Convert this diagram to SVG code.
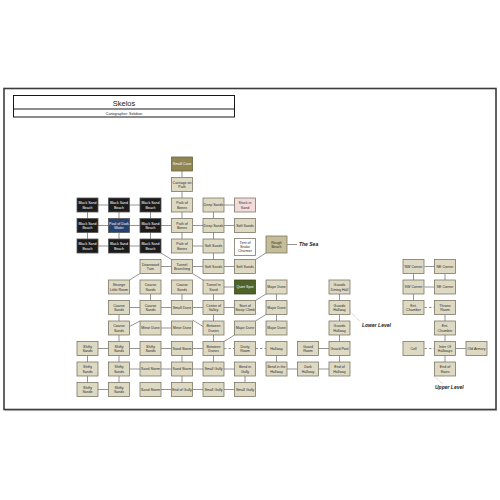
<svg xmlns="http://www.w3.org/2000/svg" width="500" height="500" viewBox="0 0 500 500">
<style>
  .bx{fill:#ddd9c3;stroke:#7d7866;stroke-width:0.8}
  .blk{fill:#1b1b1b;stroke:#555;stroke-width:0.8}
  .blu{fill:#25426f;stroke:#555;stroke-width:0.8}
  .olv{fill:#8f8652;stroke:#6b6440;stroke-width:0.8}
  .grn{fill:#4f6228;stroke:#3a4a1c;stroke-width:0.8}
  .pnk{fill:#f2dcdb;stroke:#7d7866;stroke-width:0.8}
  .wht{fill:#ffffff;stroke:#7d7866;stroke-width:0.8}
  .tan{fill:#c4bd97;stroke:#7d7866;stroke-width:0.8}
  text{font-family:"Liberation Sans",Arial,sans-serif;text-anchor:middle}
  .t{font-size:3.6px;fill:#2b2b2b}
  .tw{font-size:3.6px;fill:#ffffff}
  .lbl{font-size:5px;font-weight:bold;font-style:italic;fill:#222;text-anchor:start}
  #connectors path{fill:none;stroke:#7a7a7a;stroke-width:0.8}
  #connectors .dash{stroke-dasharray:2.5 2}
  #connectors .note{stroke:#9a9a9a;stroke-width:0.6;stroke-dasharray:1 0.8}
</style>

<!-- page frame -->
<rect x="4" y="88.5" width="492" height="321" fill="#ffffff" stroke="#3c3c3c" stroke-width="1.6"/>
<line x1="4.8" y1="410.6" x2="496.8" y2="410.6" stroke="#9a9a9a" stroke-width="0.8"/>

<!-- title block -->
<g id="title">
  <rect x="13.5" y="95.5" width="221" height="21.5" fill="#ffffff" stroke="#000" stroke-width="0.9"/>
  <line x1="13.5" y1="109" x2="234.5" y2="109" stroke="#000" stroke-width="0.9"/>
  <text x="124" y="106" style="font-size:7.5px;fill:#222">Skelos</text>
  <text x="124" y="115" style="font-size:3.6px;fill:#222">Cartographer: Soloban</text>
</g>

<!-- connectors -->
<g id="connectors">
  <!-- vertical links -->
  <path d="M182 171V177.5M182 191.5V198M182 212V218.5M182 232.5V239"/>
  <path d="M87.5 212V218.5M119 212V218.5M150.5 212V218.5M87.5 232.5V239M119 232.5V239M150.5 232.5V239"/>
  <path d="M213.5 212V218.5M213.5 232.5V239M213.5 253V259.5"/>
  <path d="M213.5 294V300.5M213.5 314.5V321M213.5 335V341.5M213.5 355.5V362"/>
  <path d="M276.5 294V300.5M276.5 314.5V321M245 376V382.5M276.5 355.5V362"/>
  <path d="M339.5 294V300.5M339.5 314.5V321M339.5 335V341.5M339.5 355.5V362"/>
  <path d="M150.5 294V300.5M182 294V300.5M119 314.5V321M119 335V341.5"/>
  <path d="M87.5 355.5V362M87.5 376V382.5M119 355.5V362M119 376V382.5M182 355.5V362M182 376V382.5"/>
  <path d="M413.5 273.5V280M445 273.5V280M413.5 294V300.5M445 314.5V321M445 335V341.5M445 355.5V362"/>
  <!-- horizontal links -->
  <path d="M98 205H108.5M129.5 205H140M224 205H234.5"/>
  <path d="M98 225.5H108.5M129.5 225.5H140M161 225.5H171.5M192.5 225.5H203M224 225.5H234.5"/>
  <path d="M98 246H108.5M129.5 246H140M192.5 246H203"/>
  <path d="M161 266.5H171.5M192.5 266.5H203M224 266.5H234.5M224 287H234.5"/>
  <path d="M129.5 307.5H140M161 307.5H171.5M192.5 307.5H203M224 307.5H234.5M161 328H171.5"/>
  <path d="M98 348.5H108.5M129.5 348.5H140M161 348.5H171.5M192.5 348.5H203M318.5 348.5H329"/>
  <path class="dash" d="M224 348.5H234.5M255.5 348.5H266"/>
  <path d="M129.5 369H140M161 369H171.5M192.5 369H203M224 369H234.5M287 369H297.5M318.5 369H329"/>
  <path d="M98 389.5H108.5M161 389.5H171.5M192.5 389.5H203M224 389.5H234.5"/>
  <path d="M424.5 266.5H434.5M424.5 287H434.5M455.5 348.5H466"/>
  <path class="dash" d="M424.5 307.5H434.5M424.5 348.5H434.5"/>
  <!-- diagonal links -->
  <path d="M161 253L171.5 259.5M129.5 280L140 273.5M192.5 273.5L203 280M266 253L255.5 259.5"/>
  <path d="M255.5 300.5L266 294M255.5 321L266 314.5M224 341.5L234.5 335M192.5 320L203 326.5M129.5 326.5L140 321"/>
  <!-- annotation leaders -->
  <path d="M287 244.5H297"/>
  <path class="note" d="M350 311.5L360 321.5M434.5 376.5L443 384"/>
</g>

<!-- annotations -->
<text class="lbl" x="299" y="246">The Sea</text>
<text class="lbl" x="362" y="327">Lower Level</text>
<text class="lbl" x="435" y="389">Upper Level</text>

<!-- nodes: columns 77,108.5,140,171.5,203,234.5,266,297.5,329 ; rows 157 + 20.5n -->
<g id="small-cave" transform="translate(171.5,157)"><rect class="olv" width="21" height="14"/><text class="tw" x="10.5" y="8.3">Small Cave</text></g>
<g id="carriage-on-path" transform="translate(171.5,177.5)"><rect class="bx" width="21" height="14"/><text class="t" x="10.5" y="6">Carriage on</text><text class="t" x="10.5" y="10.5">Path</text></g>

<g id="black-sand-1" transform="translate(77,198)"><rect class="blk" width="21" height="14"/><text class="tw" x="10.5" y="6">Black Sand</text><text class="tw" x="10.5" y="10.5">Beach</text></g>
<g id="black-sand-2" transform="translate(108.5,198)"><rect class="blk" width="21" height="14"/><text class="tw" x="10.5" y="6">Black Sand</text><text class="tw" x="10.5" y="10.5">Beach</text></g>
<g id="black-sand-3" transform="translate(140,198)"><rect class="blk" width="21" height="14"/><text class="tw" x="10.5" y="6">Black Sand</text><text class="tw" x="10.5" y="10.5">Beach</text></g>
<g id="path-of-bones-1" transform="translate(171.5,198)"><rect class="bx" width="21" height="14"/><text class="t" x="10.5" y="6">Path of</text><text class="t" x="10.5" y="10.5">Bones</text></g>
<g id="deep-sands-1" transform="translate(203,198)"><rect class="bx" width="21" height="14"/><text class="t" x="10.5" y="8.3">Deep Sands</text></g>
<g id="stuck-in-sand" transform="translate(234.5,198)"><rect class="pnk" width="21" height="14"/><text class="t" x="10.5" y="6">Stuck in</text><text class="t" x="10.5" y="10.5">Sand</text></g>

<g id="black-sand-4" transform="translate(77,218.5)"><rect class="blk" width="21" height="14"/><text class="tw" x="10.5" y="6">Black Sand</text><text class="tw" x="10.5" y="10.5">Beach</text></g>
<g id="pool-of-dark-water" transform="translate(108.5,218.5)"><rect class="blu" width="21" height="14"/><text class="tw" x="10.5" y="6">Pool of Dark</text><text class="tw" x="10.5" y="10.5">Water</text></g>
<g id="black-sand-5" transform="translate(140,218.5)"><rect class="blk" width="21" height="14"/><text class="tw" x="10.5" y="6">Black Sand</text><text class="tw" x="10.5" y="10.5">Beach</text></g>
<g id="path-of-bones-2" transform="translate(171.5,218.5)"><rect class="bx" width="21" height="14"/><text class="t" x="10.5" y="6">Path of</text><text class="t" x="10.5" y="10.5">Bones</text></g>
<g id="deep-sands-2" transform="translate(203,218.5)"><rect class="bx" width="21" height="14"/><text class="t" x="10.5" y="8.3">Deep Sands</text></g>
<g id="soft-sands-1" transform="translate(234.5,218.5)"><rect class="bx" width="21" height="14"/><text class="t" x="10.5" y="8.3">Soft Sands</text></g>

<g id="black-sand-6" transform="translate(77,239)"><rect class="blk" width="21" height="14"/><text class="tw" x="10.5" y="6">Black Sand</text><text class="tw" x="10.5" y="10.5">Beach</text></g>
<g id="black-sand-7" transform="translate(108.5,239)"><rect class="blk" width="21" height="14"/><text class="tw" x="10.5" y="6">Black Sand</text><text class="tw" x="10.5" y="10.5">Beach</text></g>
<g id="black-sand-8" transform="translate(140,239)"><rect class="blk" width="21" height="14"/><text class="tw" x="10.5" y="6">Black Sand</text><text class="tw" x="10.5" y="10.5">Beach</text></g>
<g id="path-of-bones-3" transform="translate(171.5,239)"><rect class="bx" width="21" height="14"/><text class="t" x="10.5" y="6">Path of</text><text class="t" x="10.5" y="10.5">Bones</text></g>
<g id="soft-sands-2" transform="translate(203,239)"><rect class="bx" width="21" height="14"/><text class="t" x="10.5" y="8.3">Soft Sands</text></g>
<g id="tent-of-snake-charmer" transform="translate(234.5,238.5)"><rect class="wht" width="21" height="17"/><text class="t" x="10.5" y="5">Tent of</text><text class="t" x="10.5" y="9.3">Snake</text><text class="t" x="10.5" y="13.6">Charmer</text></g>
<g id="rough-beach" transform="translate(266,236)"><rect class="tan" width="21" height="17"/><text class="t" x="10.5" y="7.6">Rough</text><text class="t" x="10.5" y="12">Beach</text></g>

<g id="downward-turn" transform="translate(140,259.5)"><rect class="bx" width="21" height="14"/><text class="t" x="10.5" y="6">Downward</text><text class="t" x="10.5" y="10.5">Turn</text></g>
<g id="tunnel-branching" transform="translate(171.5,259.5)"><rect class="bx" width="21" height="14"/><text class="t" x="10.5" y="6">Tunnel</text><text class="t" x="10.5" y="10.5">Branching</text></g>
<g id="soft-sands-3" transform="translate(203,259.5)"><rect class="bx" width="21" height="14"/><text class="t" x="10.5" y="8.3">Soft Sands</text></g>
<g id="soft-sands-4" transform="translate(234.5,259.5)"><rect class="bx" width="21" height="14"/><text class="t" x="10.5" y="8.3">Soft Sands</text></g>

<g id="strange-little-room" transform="translate(108.5,280)"><rect class="bx" width="21" height="14"/><text class="t" x="10.5" y="6">Strange</text><text class="t" x="10.5" y="10.5">Little Room</text></g>
<g id="coarse-sands-1" transform="translate(140,280)"><rect class="bx" width="21" height="14"/><text class="t" x="10.5" y="6">Coarse</text><text class="t" x="10.5" y="10.5">Sands</text></g>
<g id="coarse-sands-2" transform="translate(171.5,280)"><rect class="bx" width="21" height="14"/><text class="t" x="10.5" y="6">Coarse</text><text class="t" x="10.5" y="10.5">Sands</text></g>
<g id="tunnel-in-sand" transform="translate(203,280)"><rect class="bx" width="21" height="14"/><text class="t" x="10.5" y="6">Tunnel in</text><text class="t" x="10.5" y="10.5">Sand</text></g>
<g id="quiet-spot" transform="translate(234.5,280)"><rect class="grn" width="21" height="14"/><text class="tw" x="10.5" y="8.3">Quiet Spot</text></g>
<g id="major-dune-1" transform="translate(266,280)"><rect class="bx" width="21" height="14"/><text class="t" x="10.5" y="8.3">Major Dune</text></g>
<g id="guards-dining-hall" transform="translate(329,280)"><rect class="bx" width="21" height="14"/><text class="t" x="10.5" y="6">Guards</text><text class="t" x="10.5" y="10.5">Dining Hall</text></g>

<g id="coarse-sands-3" transform="translate(108.5,300.5)"><rect class="bx" width="21" height="14"/><text class="t" x="10.5" y="6">Coarse</text><text class="t" x="10.5" y="10.5">Sands</text></g>
<g id="coarse-sands-4" transform="translate(140,300.5)"><rect class="bx" width="21" height="14"/><text class="t" x="10.5" y="6">Coarse</text><text class="t" x="10.5" y="10.5">Sands</text></g>
<g id="small-dune" transform="translate(171.5,300.5)"><rect class="bx" width="21" height="14"/><text class="t" x="10.5" y="8.3">Small Dune</text></g>
<g id="center-of-valley" transform="translate(203,300.5)"><rect class="bx" width="21" height="14"/><text class="t" x="10.5" y="6">Center of</text><text class="t" x="10.5" y="10.5">Valley</text></g>
<g id="start-of-steep-climb" transform="translate(234.5,300.5)"><rect class="bx" width="21" height="14"/><text class="t" x="10.5" y="6">Start of</text><text class="t" x="10.5" y="10.5">Steep Climb</text></g>
<g id="major-dune-2" transform="translate(266,300.5)"><rect class="bx" width="21" height="14"/><text class="t" x="10.5" y="8.3">Major Dune</text></g>
<g id="guards-hallway-1" transform="translate(329,300.5)"><rect class="bx" width="21" height="14"/><text class="t" x="10.5" y="6">Guards</text><text class="t" x="10.5" y="10.5">Hallway</text></g>

<g id="coarse-sands-5" transform="translate(108.5,321)"><rect class="bx" width="21" height="14"/><text class="t" x="10.5" y="6">Coarse</text><text class="t" x="10.5" y="10.5">Sands</text></g>
<g id="minor-dune-1" transform="translate(140,321)"><rect class="bx" width="21" height="14"/><text class="t" x="10.5" y="8.3">Minor Dune</text></g>
<g id="minor-dune-2" transform="translate(171.5,321)"><rect class="bx" width="21" height="14"/><text class="t" x="10.5" y="8.3">Minor Dune</text></g>
<g id="between-dunes-1" transform="translate(203,321)"><rect class="bx" width="21" height="14"/><text class="t" x="10.5" y="6">Between</text><text class="t" x="10.5" y="10.5">Dunes</text></g>
<g id="major-dune-3" transform="translate(234.5,321)"><rect class="bx" width="21" height="14"/><text class="t" x="10.5" y="8.3">Major Dune</text></g>
<g id="major-dune-4" transform="translate(266,321)"><rect class="bx" width="21" height="14"/><text class="t" x="10.5" y="8.3">Major Dune</text></g>
<g id="guards-hallway-2" transform="translate(329,321)"><rect class="bx" width="21" height="14"/><text class="t" x="10.5" y="6">Guards</text><text class="t" x="10.5" y="10.5">Hallway</text></g>

<g id="shifty-sands-1" transform="translate(77,341.5)"><rect class="bx" width="21" height="14"/><text class="t" x="10.5" y="6">Shifty</text><text class="t" x="10.5" y="10.5">Sands</text></g>
<g id="shifty-sands-2" transform="translate(108.5,341.5)"><rect class="bx" width="21" height="14"/><text class="t" x="10.5" y="6">Shifty</text><text class="t" x="10.5" y="10.5">Sands</text></g>
<g id="shifty-sands-3" transform="translate(140,341.5)"><rect class="bx" width="21" height="14"/><text class="t" x="10.5" y="6">Shifty</text><text class="t" x="10.5" y="10.5">Sands</text></g>
<g id="sand-storm-1" transform="translate(171.5,341.5)"><rect class="bx" width="21" height="14"/><text class="t" x="10.5" y="8.3">Sand Storm</text></g>
<g id="between-dunes-2" transform="translate(203,341.5)"><rect class="bx" width="21" height="14"/><text class="t" x="10.5" y="6">Between</text><text class="t" x="10.5" y="10.5">Dunes</text></g>
<g id="dusty-room" transform="translate(234.5,341.5)"><rect class="bx" width="21" height="14"/><text class="t" x="10.5" y="6">Dusty</text><text class="t" x="10.5" y="10.5">Room</text></g>
<g id="hallway" transform="translate(266,341.5)"><rect class="bx" width="21" height="14"/><text class="t" x="10.5" y="8.3">Hallway</text></g>
<g id="guard-room" transform="translate(297.5,341.5)"><rect class="bx" width="21" height="14"/><text class="t" x="10.5" y="6">Guard</text><text class="t" x="10.5" y="10.5">Room</text></g>
<g id="guard-post" transform="translate(329,341.5)"><rect class="bx" width="21" height="14"/><text class="t" x="10.5" y="8.3">Guard Post</text></g>

<g id="shifty-sands-4" transform="translate(77,362)"><rect class="bx" width="21" height="14"/><text class="t" x="10.5" y="6">Shifty</text><text class="t" x="10.5" y="10.5">Sands</text></g>
<g id="shifty-sands-5" transform="translate(108.5,362)"><rect class="bx" width="21" height="14"/><text class="t" x="10.5" y="6">Shifty</text><text class="t" x="10.5" y="10.5">Sands</text></g>
<g id="sand-storm-2" transform="translate(140,362)"><rect class="bx" width="21" height="14"/><text class="t" x="10.5" y="8.3">Sand Storm</text></g>
<g id="sand-storm-3" transform="translate(171.5,362)"><rect class="bx" width="21" height="14"/><text class="t" x="10.5" y="8.3">Sand Storm</text></g>
<g id="small-gully-1" transform="translate(203,362)"><rect class="bx" width="21" height="14"/><text class="t" x="10.5" y="8.3">Small Gully</text></g>
<g id="bend-in-gully" transform="translate(234.5,362)"><rect class="bx" width="21" height="14"/><text class="t" x="10.5" y="6">Bend in</text><text class="t" x="10.5" y="10.5">Gully</text></g>
<g id="bend-in-the-hallway" transform="translate(266,362)"><rect class="bx" width="21" height="14"/><text class="t" x="10.5" y="6">Bend in the</text><text class="t" x="10.5" y="10.5">Hallway</text></g>
<g id="dark-hallway" transform="translate(297.5,362)"><rect class="bx" width="21" height="14"/><text class="t" x="10.5" y="6">Dark</text><text class="t" x="10.5" y="10.5">Hallway</text></g>
<g id="end-of-hallway" transform="translate(329,362)"><rect class="bx" width="21" height="14"/><text class="t" x="10.5" y="6">End of</text><text class="t" x="10.5" y="10.5">Hallway</text></g>

<g id="shifty-sands-6" transform="translate(77,382.5)"><rect class="bx" width="21" height="14"/><text class="t" x="10.5" y="6">Shifty</text><text class="t" x="10.5" y="10.5">Sands</text></g>
<g id="shifty-sands-7" transform="translate(108.5,382.5)"><rect class="bx" width="21" height="14"/><text class="t" x="10.5" y="6">Shifty</text><text class="t" x="10.5" y="10.5">Sands</text></g>
<g id="sand-storm-4" transform="translate(140,382.5)"><rect class="bx" width="21" height="14"/><text class="t" x="10.5" y="8.3">Sand Storm</text></g>
<g id="end-of-gully" transform="translate(171.5,382.5)"><rect class="bx" width="21" height="14"/><text class="t" x="10.5" y="8.3">End of Gully</text></g>
<g id="small-gully-2" transform="translate(203,382.5)"><rect class="bx" width="21" height="14"/><text class="t" x="10.5" y="8.3">Small Gully</text></g>
<g id="small-gully-3" transform="translate(234.5,382.5)"><rect class="bx" width="21" height="14"/><text class="t" x="10.5" y="8.3">Small Gully</text></g>

<!-- upper level -->
<g id="nw-corner" transform="translate(403,259.5)"><rect class="bx" width="21" height="14"/><text class="t" x="10.5" y="8.3">NW Corner</text></g>
<g id="ne-corner" transform="translate(434.5,259.5)"><rect class="bx" width="21" height="14"/><text class="t" x="10.5" y="8.3">NE Corner</text></g>
<g id="sw-corner" transform="translate(403,280)"><rect class="bx" width="21" height="14"/><text class="t" x="10.5" y="8.3">SW Corner</text></g>
<g id="se-corner" transform="translate(434.5,280)"><rect class="bx" width="21" height="14"/><text class="t" x="10.5" y="8.3">SE Corner</text></g>
<g id="ent-chamber-1" transform="translate(403,300.5)"><rect class="bx" width="21" height="14"/><text class="t" x="10.5" y="6">Ent.</text><text class="t" x="10.5" y="10.5">Chamber</text></g>
<g id="throne-room" transform="translate(434.5,300.5)"><rect class="bx" width="21" height="14"/><text class="t" x="10.5" y="6">Throne</text><text class="t" x="10.5" y="10.5">Room</text></g>
<g id="ent-chamber-2" transform="translate(434.5,321)"><rect class="bx" width="21" height="14"/><text class="t" x="10.5" y="6">Ent.</text><text class="t" x="10.5" y="10.5">Chamber</text></g>
<g id="cell" transform="translate(403,341.5)"><rect class="bx" width="21" height="14"/><text class="t" x="10.5" y="8.3">Cell</text></g>
<g id="inter-of-hallways" transform="translate(434.5,341.5)"><rect class="bx" width="21" height="14"/><text class="t" x="10.5" y="6">Inter Of</text><text class="t" x="10.5" y="10.5">Hallways</text></g>
<g id="old-armory" transform="translate(466,341.5)"><rect class="bx" width="21" height="14"/><text class="t" x="10.5" y="8.3">Old Armory</text></g>
<g id="end-of-stairs" transform="translate(434.5,362)"><rect class="bx" width="21" height="14"/><text class="t" x="10.5" y="6">End of</text><text class="t" x="10.5" y="10.5">Stairs</text></g>
</svg>
